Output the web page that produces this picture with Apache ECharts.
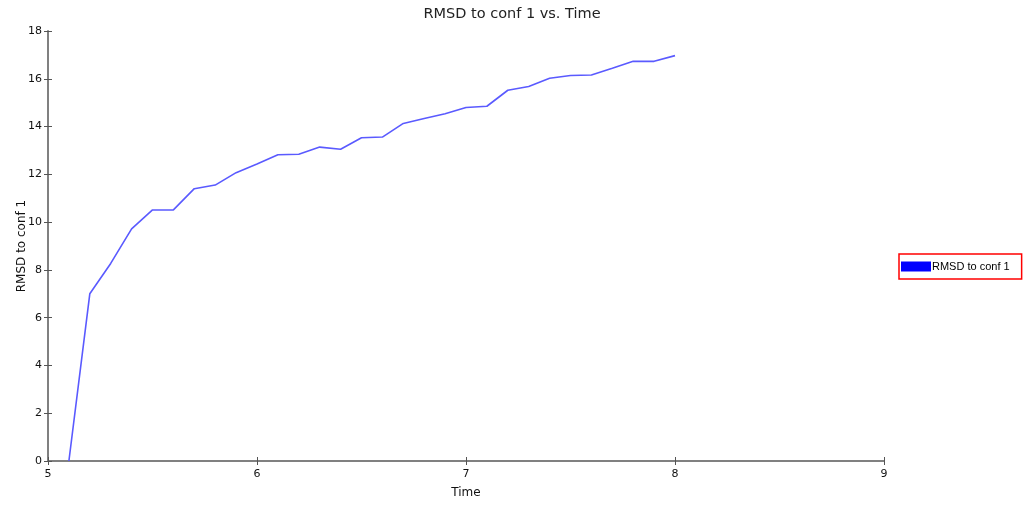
<!DOCTYPE html>
<html>
<head>
<meta charset="utf-8">
<script src="https://cdn.jsdelivr.net/npm/echarts@6/dist/echarts.min.js"></script>
<style>
  html, body { margin: 0; padding: 0; background: #fff; }
  #chart { width: 1024px; height: 508px; }
</style>
</head>
<body>
<div id="chart"></div>
<script>
const TIMES = [5.1, 5.2, 5.3, 5.4, 5.5, 5.6, 5.7, 5.8, 5.9, 6.0,
               6.1, 6.2, 6.3, 6.4, 6.5, 6.6, 6.7, 6.8, 6.9, 7.0,
               7.1, 7.2, 7.3, 7.4, 7.5, 7.6, 7.7, 7.8, 7.9, 8.0];
const RMSD  = [0.0, 7.0, 8.27, 9.72, 10.51, 10.51, 11.4, 11.55, 12.07, 12.43,
               12.82, 12.84, 13.14, 13.05, 13.53, 13.56, 14.13, 14.34, 14.54, 14.8,
               14.85, 15.52, 15.68, 16.02, 16.14, 16.16, 16.44, 16.73, 16.73, 16.97];

const SERIES_NAME = "RMSD to conf 1";
const FONT = "DejaVu Sans";

const chart = echarts.init(document.getElementById("chart"), null, { renderer: "canvas" });

const axisClr = "#808080";
const txt = { color: "#111", fontFamily: FONT, fontSize: 11 };

// ticks cross the axis line: outer ticks on the main axis, inner ticks on a twin axis
const xBase = { type: "value", min: 5, max: 9, interval: 1, splitLine: { show: false } };
const yBase = { type: "value", min: 0, max: 18, interval: 2, splitLine: { show: false } };

chart.setOption({
  backgroundColor: "#fff",
  animation: false,
  title: {
    text: "RMSD to conf 1 vs. Time", left: "center", top: 2,
    textStyle: { color: "#222", fontFamily: FONT, fontSize: 14.5, fontWeight: "normal" },
  },
  legend: {
    left: 899, top: 254, orient: "vertical",
    padding: [7, 12, 7, 2],
    borderColor: "#ff0000", borderWidth: 1.5, borderRadius: 0,
    itemWidth: 30, itemHeight: 10, itemGap: 0,
    textStyle: { color: "#000", fontFamily: "Liberation Sans", fontSize: 11, padding: [0, 0, 0, -4] },
    data: [{ name: SERIES_NAME, icon: "rect", itemStyle: { color: "#0000ff" } }],
  },
  grid: { left: 48, right: 140, top: 31, bottom: 47, outerBoundsMode: "none" },
  xAxis: [
    {
      ...xBase,
      name: "Time", nameLocation: "middle", nameGap: 26, nameMoveOverlap: false,
      nameTextStyle: { ...txt, fontSize: 12 },
      axisLine: { show: true, lineStyle: { color: axisClr, width: 2 } },
      axisTick: { show: true, length: 4, lineStyle: { color: "#555" } },
      axisLabel: { ...txt, margin: 8 },
    },
    {
      ...xBase, position: "bottom",
      axisLine: { show: false },
      axisTick: { show: true, inside: true, length: 4, lineStyle: { color: "#555" } },
      axisLabel: { show: false },
    },
  ],
  yAxis: [
    {
      ...yBase,
      name: SERIES_NAME, nameLocation: "middle", nameGap: 20, nameRotate: 90, nameMoveOverlap: false,
      nameTextStyle: { ...txt, fontSize: 12 },
      axisLine: { show: true, lineStyle: { color: axisClr, width: 2 } },
      axisTick: { show: true, length: 4, lineStyle: { color: "#555" } },
      axisLabel: { ...txt, margin: 6 },
    },
    {
      ...yBase, position: "left",
      axisLine: { show: false },
      axisTick: { show: true, inside: true, length: 4, lineStyle: { color: "#555" } },
      axisLabel: { show: false },
    },
  ],
  series: [{
    name: SERIES_NAME, type: "line",
    data: TIMES.map((t, i) => [t, RMSD[i]]),
    showSymbol: false, symbol: "none",
    lineStyle: { color: "#5a5aff", width: 1.6 },
    itemStyle: { color: "#5a5aff" },
  }],
});
</script>
</body>
</html>
